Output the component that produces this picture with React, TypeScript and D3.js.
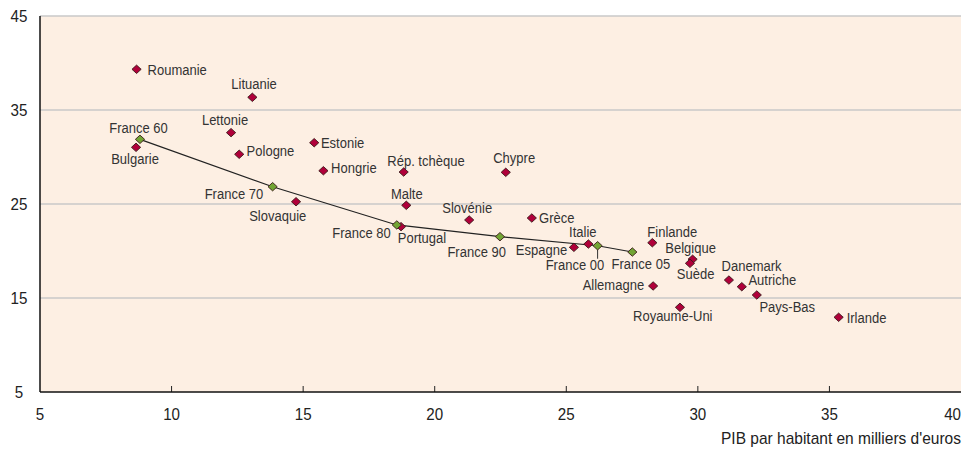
import React from "react";
import * as d3 from "d3";

const countries = ["Roumanie","Lituanie","Lettonie","Bulgarie","Pologne","Estonie","Hongrie","Rép. tchèque","Chypre","Slovaquie","Malte","Slovénie","Grèce","Portugal","Espagne","Italie","Finlande","Belgique","Suède","Danemark","Autriche","Pays-Bas","Allemagne","Royaume-Uni","Irlande"];
const countryGdp = [8.67,13.07,12.26,8.65,12.57,15.42,15.77,18.82,22.70,14.73,18.92,21.31,23.69,18.72,25.29,25.84,28.27,29.80,29.70,31.18,31.67,32.24,28.30,29.32,35.35];
const countryValue = [39.33,36.35,32.59,31.03,30.29,31.52,28.54,28.40,28.37,25.24,24.86,23.30,23.51,22.59,20.39,20.74,20.88,19.12,18.69,16.91,16.20,15.32,16.28,14.01,12.95];

const franceYears = ["France 60","France 70","France 80","France 90","France 00","France 05"];
const franceGdp = [8.80,13.84,18.56,22.48,26.19,27.51];
const franceValue = [31.88,26.84,22.77,21.52,20.56,19.89];

const xTicks = [5,10,15,20,25,30,35,40];
const yTicks = [5,15,25,35,45];
const xTitle = "PIB par habitant en milliers d'euros";

// label layout (anchor, offset from marker in px)
const labelLayout: Record<string, [string, number, number]> = {
  "Roumanie": ["start", 11, 5.7],
  "Lituanie": ["middle", 1.7, -8.3],
  "Lettonie": ["middle", -6, -7.7],
  "Bulgarie": ["middle", -1, 17],
  "Pologne": ["start", 7.4, 1.5],
  "Estonie": ["start", 6.7, 5],
  "Hongrie": ["start", 7.7, 2],
  "Rép. tchèque": ["middle", 22.3, -6.3],
  "Chypre": ["middle", 8.4, -9.3],
  "Slovaquie": ["middle", -18.3, 19],
  "Malte": ["middle", 0.5, -6.3],
  "Slovénie": ["middle", -2, -6.7],
  "Grèce": ["start", 7.3, 5.3],
  "Portugal": ["start", -3.3, 16.6],
  "Espagne": ["end", -6.7, 7.7],
  "Italie": ["middle", -5.6, -7.3],
  "Finlande": ["start", -5, -6],
  "Belgique": ["middle", -2, -6],
  "Suède": ["middle", 5.7, 16],
  "Danemark": ["start", -7.3, -9],
  "Autriche": ["start", 6.6, -1.7],
  "Pays-Bas": ["start", 2.6, 16.7],
  "Allemagne": ["end", -9, 4],
  "Royaume-Uni": ["middle", -7.2, 13.7],
  "Irlande": ["start", 8, 5.4],
  "France 60": ["middle", -1.5, -6.3],
  "France 70": ["end", -9.4, 12],
  "France 80": ["end", -6, 13.3],
  "France 90": ["end", 6, 20],
  "France 00": ["end", 6.6, 24.6],
  "France 05": ["middle", 8.5, 17.3],
};

const W = 965, H = 449;
const left = 40, right = 961, top = 16, bottom = 392;
const FONT = "'Liberation Sans', Arial, sans-serif";
const LABEL_SIZE = 15.5;
const LABEL_SQUEEZE = 0.84;

function Diamond({ x, y, fill }: { x: number; y: number; fill: string }) {
  const w = 4.6, h = 4.2;
  return (
    <path
      d={`M${x},${y - h}L${x + w},${y}L${x},${y + h}L${x - w},${y}Z`}
      fill={fill}
      stroke="#3a1a1a"
      strokeWidth={0.9}
    />
  );
}

export default function App() {
  React.useEffect(() => {
    document.body.style.margin = "0";
  }, []);
  const x = d3.scaleLinear().domain([5, 40]).range([left, right]);
  const y = d3.scaleLinear().domain([5, 45]).range([bottom, top]);
  const line = d3
    .line<number>()
    .x((_, i) => x(franceGdp[i]))
    .y((_, i) => y(franceValue[i]));

  const label = (name: string, px: number, py: number) => {
    const [anchor, dx, dy] = labelLayout[name] || ["start", 6, 4];
    return (
      <text
        key={"l" + name}
        transform={`translate(${px + dx},${py + dy}) scale(${LABEL_SQUEEZE},1)`}
        textAnchor={anchor as any}
        fontSize={LABEL_SIZE}
        fill="#333"
        fontFamily={FONT}
      >
        {name}
      </text>
    );
  };

  return (
    <svg width={W} height={H} style={{ display: "block" }}>
      <rect x={left} y={top} width={right - left} height={bottom - top} fill="#fdefe3" />
      {yTicks.filter((t) => t > 5).map((t) => (
        <line key={"g" + t} x1={left} x2={right} y1={y(t)} y2={y(t)} stroke="#c9c9c9" strokeWidth={1.6} />
      ))}
      {xTicks.filter((t) => t > 5 && t < 40).map((t) => (
        <line key={"xt" + t} x1={x(t)} x2={x(t)} y1={bottom} y2={bottom - 6} stroke="#222" strokeWidth={1} />
      ))}
      <line x1={left} x2={right} y1={bottom} y2={bottom} stroke="#111" strokeWidth={1.5} />
      <line x1={left} x2={left} y1={top} y2={bottom} stroke="#111" strokeWidth={1.5} />
      {yTicks.map((t) => (
        <text key={"yl" + t} transform={`translate(19,${y(t) + 5.8}) scale(0.93,1)`} textAnchor="middle" fontSize={16.3} fill="#222" fontFamily={FONT}>
          {t}
        </text>
      ))}
      {xTicks.map((t) => (
        <text
          key={"xl" + t}
          transform={`translate(${t === 40 ? right : x(t)},420) scale(0.93,1)`}
          textAnchor={t === 40 ? "end" : "middle"}
          fontSize={16.3}
          fill="#222"
          fontFamily={FONT}
        >
          {t}
        </text>
      ))}
      <text transform="translate(961,444) scale(0.97,1)" textAnchor="end" fontSize={16} fill="#222" fontFamily={FONT}>
        {xTitle}
      </text>
      <path d={line(franceGdp) || ""} fill="none" stroke="#222" strokeWidth={1.2} />
      <line
        x1={x(franceGdp[4])}
        x2={x(franceGdp[4])}
        y1={y(franceValue[4]) + 3.5}
        y2={y(franceValue[4]) + 13}
        stroke="#333"
        strokeWidth={1}
      />
      {countries.map((c, i) => (
        <Diamond key={"c" + c} x={x(countryGdp[i])} y={y(countryValue[i])} fill="#b0003a" />
      ))}
      {franceYears.map((c, i) => (
        <Diamond key={"f" + c} x={x(franceGdp[i])} y={y(franceValue[i])} fill="#72a534" />
      ))}
      {countries.map((c, i) => label(c, x(countryGdp[i]), y(countryValue[i])))}
      {franceYears.map((c, i) => label(c, x(franceGdp[i]), y(franceValue[i])))}
    </svg>
  );
}
